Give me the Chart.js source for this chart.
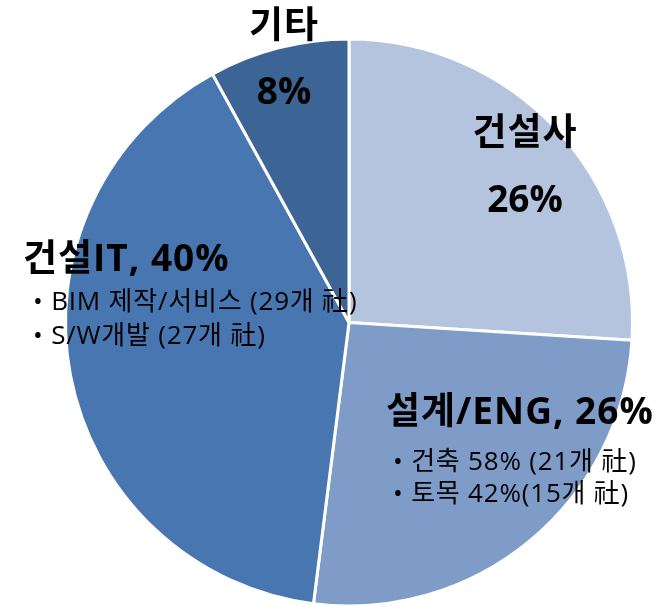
<!DOCTYPE html>
<html>
<head>
<meta charset="utf-8">
<script src="https://cdn.jsdelivr.net/npm/chart.js@4"></script>
<style>
  html, body { margin: 0; padding: 0; background: #fff; overflow: hidden; }
  #wrap { position: relative; width: 659px; height: 620px; }
</style>
</head>
<body>
<div id="wrap"><canvas id="pieChart"></canvas></div>
<script>
// --- DATA ---
const categories = ['건설사', '설계/ENG', '건설IT', '기타'];
const shares = [26, 26, 40, 8];
const sliceColors = ['#b4c4df', '#7f9cc9', '#4876b1', '#3c6596'];
const subItems = [
    [],
    ['• 건축 58% (21개 社)', '• 토목 42%(15개 社)'],
    ['• BIM 제작/서비스 (29개 社)', '• S/W개발 (27개 社)'],
    []
];

const FONT = '"Open Sans", "Noto Sans CJK KR", sans-serif';

// label placement relative to pie center (cx, cy)
const labelLayout = [
    { mode: 'stack', dx: 176, title: -188, value: -121 },
    { mode: 'inline', dx: 37, dy: 91, sub: [140, 172], subDx: 44 },
    { mode: 'inline', dx: -326, dy: -62, sub: [-20, 14], subDx: -316 },
    { mode: 'stack', dx: -65, title: -295, value: -229 }
];

const labelPlugin = {
    id: 'sliceLabels',
    afterDatasetsDraw(chart) {
        const ctx = chart.ctx;
        const arc = chart.getDatasetMeta(0).data[0];
        const cx = arc.x, cy = arc.y;
        ctx.save();
        ctx.fillStyle = '#000';
        ctx.textBaseline = 'middle';
        labelLayout.forEach((l, i) => {
            const pct = shares[i] + '%';
            ctx.letterSpacing = '1px';
            if (l.mode === 'stack') {
                ctx.textAlign = 'center';
                ctx.font = 'bold 37px ' + FONT;
                ctx.fillText(categories[i], cx + l.dx, cy + l.title);
                ctx.letterSpacing = '0px';
                ctx.fillText(pct, cx + l.dx, cy + l.value);
            } else {
                ctx.textAlign = 'left';
                ctx.font = 'bold 37px ' + FONT;
                ctx.fillText(categories[i] + ', ' + pct, cx + l.dx, cy + l.dy);
                ctx.font = '26px ' + FONT;
                ctx.letterSpacing = '0.8px';
                subItems[i].forEach((s, k) => {
                    ctx.fillText(s, cx + l.subDx, cy + l.sub[k]);
                });
            }
        });
        ctx.restore();
    }
};

const ctx = document.getElementById('pieChart').getContext('2d');
const myChart = new Chart(ctx, {
    type: 'pie',
    data: {
        labels: categories,
        datasets: [{
            data: shares,
            backgroundColor: sliceColors,
            borderColor: '#ffffff',
            borderWidth: 3
        }]
    },
    options: {
        responsive: true,
        maintainAspectRatio: false,
        animation: false,
        layout: { padding: { left: 64, right: 25, top: 36, bottom: 11 } },
        plugins: {
            legend: { display: false },
            tooltip: { enabled: false }
        }
    },
    plugins: [labelPlugin]
});
</script>
</body>
</html>
